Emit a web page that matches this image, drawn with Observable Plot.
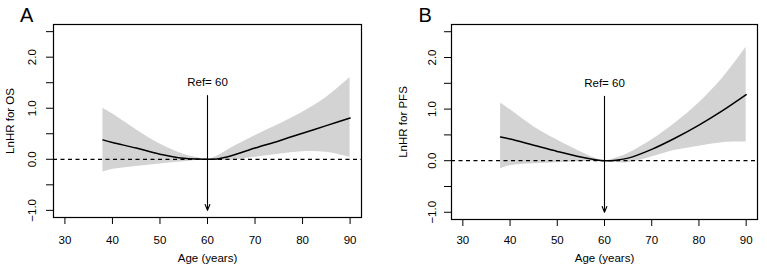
<!DOCTYPE html>
<html>
<head>
<meta charset="utf-8">
<script src="https://cdn.jsdelivr.net/npm/d3@7"></script>
<script src="https://cdn.jsdelivr.net/npm/@observablehq/plot@0.6"></script>
<style>
  body { margin: 0; background: #fff; }
  #fig { position: relative; width: 767px; height: 271px; font-family: "Liberation Sans", Arial, sans-serif; background: #fff; }
  .panel { position: absolute; top: 0; }
  .letter { position: absolute; font-size: 20px; line-height: 1; color: #000; }
</style>
</head>
<body>
<div id="fig"></div>
<script>
// ---- data ----
const ages = [38, 40, 45, 50, 55, 58, 60, 62, 65, 70, 75, 80, 85, 90];

// Panel A: LnHR for OS
const osEstimate = [0.38, 0.33, 0.22, 0.10, 0.02, 0.004, 0, 0.008, 0.07, 0.22, 0.36, 0.51, 0.66, 0.81];
const osUpper    = [1.00, 0.89, 0.58, 0.30, 0.10, 0.03, 0, 0.06, 0.22, 0.46, 0.68, 0.92, 1.21, 1.60];
const osLower    = [-0.25, -0.20, -0.14, -0.09, -0.05, -0.02, 0, -0.02, -0.02, 0.04, 0.10, 0.15, 0.14, 0.04];

// Panel B: LnHR for PFS
const pfsEstimate = [0.46, 0.42, 0.30, 0.18, 0.07, 0.02, 0, 0.005, 0.05, 0.22, 0.44, 0.69, 0.97, 1.28];
const pfsUpper    = [1.12, 0.99, 0.66, 0.40, 0.17, 0.05, 0, 0.04, 0.14, 0.40, 0.73, 1.12, 1.60, 2.20];
const pfsLower    = [-0.16, -0.10, -0.06, -0.04, -0.02, -0.01, 0, -0.03, -0.04, 0.07, 0.20, 0.28, 0.35, 0.36];

const xTicks = [30, 40, 50, 60, 70, 80, 90];
const yTicks = [-1, -0.5, 0, 0.5, 1, 1.5, 2, 2.5];
const xDomain = [27.6, 92.4];
const yDomain = [-1.14, 2.64];

const refAge = [60];
const refArrowFrom = [1.25];
const refArrowTo = [-1.0];
const refLabelY = [1.5];
const refLabel = ["Ref= 60"];

const panelLetters = ["A", "B"];
const yTitles = ["LnHR for OS", "LnHR for PFS"];
const xTitle = "Age (years)";

// ---- drawing ----
function makePanel(est, up, lo, yTitle, layout) {
  const rows = ages.map((a, i) => ({age: a, est: est[i], up: up[i], lo: lo[i]}));
  const refRows = refAge.map((a, i) => ({x: a, y1: refArrowFrom[i], y2: refArrowTo[i], ly: refLabelY[i], label: refLabel[i]}));
  return Plot.plot({
    width: layout.width,
    height: 271,
    marginLeft: layout.ml,
    marginRight: layout.mr,
    marginTop: 24,
    marginBottom: layout.mb,
    style: {fontFamily: "'Liberation Sans', Arial, sans-serif", fontSize: "11.5px", color: "#000", background: "#fff", overflow: "visible"},
    x: {domain: xDomain},
    y: {domain: yDomain},
    marks: [
      Plot.areaY(rows, {x: "age", y1: "lo", y2: "up", fill: "#d3d3d3", curve: "catmull-rom"}),
      Plot.ruleY([0], {stroke: "#000", strokeWidth: 1.3, strokeDasharray: "4,3.5"}),
      Plot.lineY(rows, {x: "age", y: "est", stroke: "#000", strokeWidth: 1.5, curve: "catmull-rom"}),
      Plot.arrow(refRows, {x1: "x", x2: "x", y1: "y1", y2: "y2", stroke: "#000", strokeWidth: 1.1, headLength: 8.5, headAngle: 44}),
      Plot.text(refRows, {x: "x", y: "ly", text: "label", fontSize: 11.5, fill: "#000"}),
      Plot.frame({stroke: "#000", strokeWidth: 1.2}),
      Plot.axisX({ticks: xTicks, tickSize: 7, tickPadding: layout.xPad, tickFormat: d => String(d),
        label: xTitle, labelAnchor: "center", labelArrow: "none", labelOffset: layout.xLabOff}),
      Plot.axisY({ticks: yTicks, tickSize: 7, tickRotate: -90, tickPadding: layout.yPad,
        tickFormat: d => Number.isInteger(d) ? (d < 0 ? "\u2212" + Math.abs(d).toFixed(1) : d.toFixed(1)) : "",
        label: yTitle, labelAnchor: "center", labelArrow: "none", labelOffset: layout.yLabOff})
    ]
  });
}

const fig = document.getElementById("fig");

const a = makePanel(osEstimate, osUpper, osLower, yTitles[0],
  {width: 383, ml: 53, mr: 22, mb: 54, xPad: 11, yPad: 11, xLabOff: 44.4, yLabOff: 48});
a.classList.add("panel");
a.style.left = "0px";
fig.appendChild(a);

const b = makePanel(pfsEstimate, pfsUpper, pfsLower, yTitles[1],
  {width: 382, ml: 66, mr: 10, mb: 52, xPad: 9, yPad: 9, xLabOff: 42.4, yLabOff: 53});
b.classList.add("panel");
b.style.left = "385px";
fig.appendChild(b);

const la = document.createElement("div");
la.className = "letter"; la.textContent = panelLetters[0];
la.style.left = "20px"; la.style.top = "5px";
fig.appendChild(la);

const lb = document.createElement("div");
lb.className = "letter"; lb.textContent = panelLetters[1];
lb.style.left = "418.5px"; lb.style.top = "5px";
fig.appendChild(lb);
</script>
</body>
</html>
